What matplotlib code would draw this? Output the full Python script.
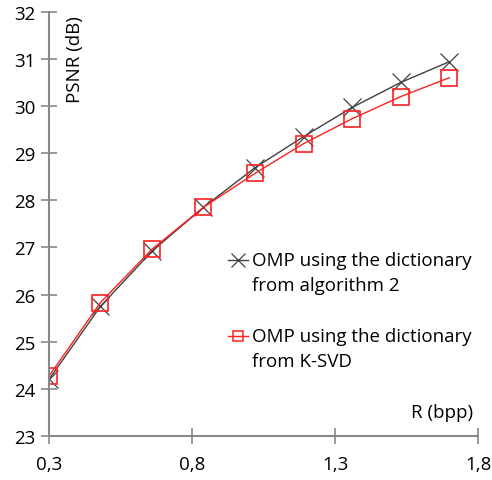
import matplotlib
matplotlib.use("Agg")
import matplotlib.pyplot as plt
from matplotlib.lines import Line2D
from matplotlib.ticker import FuncFormatter

plt.rcParams['font.family'] = ['Open Sans', 'DejaVu Sans']

rate = [0.30, 0.48, 0.66, 0.84, 1.02, 1.19, 1.36, 1.53, 1.70]
psnr_alg2 = [24.20, 25.75, 26.92, 27.85, 28.69, 29.35, 29.97, 30.50, 30.94]
psnr_ksvd = [24.27, 25.83, 26.96, 27.85, 28.57, 29.20, 29.73, 30.20, 30.60]
label_alg2 = "OMP using the dictionary\nfrom algorithm 2"
label_ksvd = "OMP using the dictionary\nfrom K-SVD"
xticks = [0.3, 0.8, 1.3, 1.8]
yticks = list(range(23, 33))

W, H = 492, 481
fig = plt.figure(figsize=(W / 100, H / 100), dpi=100)
ax = fig.add_axes([49 / W, 1 - 437 / H, (478 - 49) / W, (437 - 12.7) / H])

c_alg2 = '#404040'
c_ksvd = '#ff2020'
ax.plot(rate, psnr_alg2, color=c_alg2, lw=1.0, marker='x', ms=13, mew=0.9)
ax.plot(rate, psnr_ksvd, color=c_ksvd, lw=1.0, marker='s', ms=11, mew=1.2,
        mfc='none')

ax.set_xlim(0.3, 1.8)
ax.set_ylim(23, 32)
ax.set_xticks(xticks)
ax.set_yticks(yticks)
ax.xaxis.set_major_formatter(FuncFormatter(lambda v, p: f"{v:.1f}".replace('.', ',')))
ax.tick_params(direction='inout', length=11, width=1.2, color='#888888',
               labelsize=13.5, labelcolor='#000000')
ax.tick_params(axis='x', pad=8)
ax.tick_params(axis='y', pad=4)
for s in ['top', 'right']:
    ax.spines[s].set_visible(False)
for s in ['left', 'bottom']:
    ax.spines[s].set_color('#888888')
    ax.spines[s].set_linewidth(1.5)

ax.text(75 / W, 1 - 60 / H, "PSNR (dB)", transform=fig.transFigure, rotation=90,
        ha='center', va='center', fontsize=13.5)
ax.text(473 / W, 1 - 413 / H, "R (bpp)", transform=fig.transFigure,
        ha='right', va='center', fontsize=13.5)

# manual legend: handle aligned with first text line
entries = [(label_alg2, c_alg2, 'x', 10, 0.9, 261),
           (label_ksvd, c_ksvd, 's', 7.5, 1.1, 337)]
for label, col, mk, ms, mew, ypix in entries:
    y = 1 - ypix / H
    fig.add_artist(Line2D([228 / W, 248 / W], [y, y], transform=fig.transFigure,
                          color=col, lw=1.0))
    fig.add_artist(Line2D([238 / W], [y], transform=fig.transFigure, color=col,
                          marker=mk, ms=ms, mew=mew, mfc='none', lw=0))
    for i, line in enumerate(label.split("\n")):
        fig.text(252 / W, 1 - (ypix + 25 * i) / H, line, ha='left',
                 va='center', fontsize=13.5)

fig.savefig("out.png", dpi=100)
